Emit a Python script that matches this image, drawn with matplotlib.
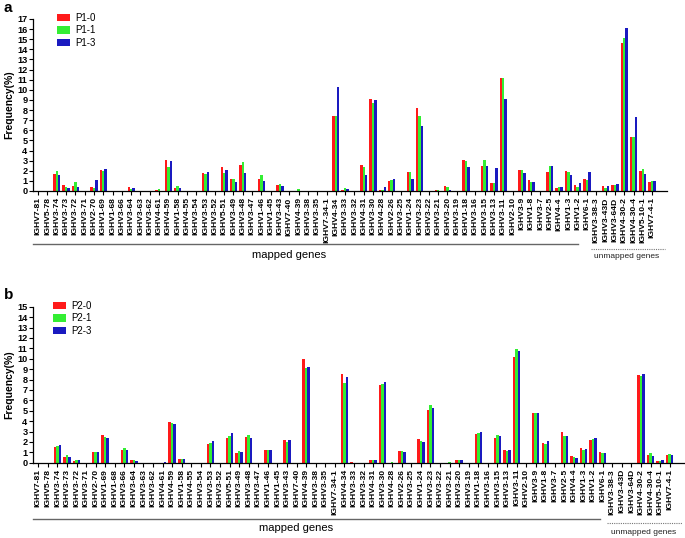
import numpy as np
import matplotlib
matplotlib.use('Agg')
import matplotlib.pyplot as plt
import matplotlib.transforms as mtransforms
from matplotlib.lines import Line2D
from matplotlib.patches import Patch

plt.rcParams['font.family'] = ['Liberation Sans', 'DejaVu Sans']

genes = [
    'IGHV7-81', 'IGHV5-78', 'IGHV3-74', 'IGHV3-73', 'IGHV3-72', 'IGHV3-71', 'IGHV2-70',
    'IGHV1-69', 'IGHV1-68', 'IGHV3-66', 'IGHV3-64', 'IGHV3-63', 'IGHV3-62', 'IGHV4-61',
    'IGHV4-59', 'IGHV1-58', 'IGHV4-55', 'IGHV3-54', 'IGHV3-53', 'IGHV3-52', 'IGHV5-51',
    'IGHV3-49', 'IGHV3-48', 'IGHV3-47', 'IGHV1-46', 'IGHV1-45', 'IGHV3-43', 'IGHV7-40',
    'IGHV4-39', 'IGHV3-38', 'IGHV3-35', 'IGHV7-34-1', 'IGHV4-34', 'IGHV3-33', 'IGHV3-32',
    'IGHV4-31', 'IGHV3-30', 'IGHV4-28', 'IGHV2-26', 'IGHV3-25', 'IGHV1-24', 'IGHV3-23',
    'IGHV3-22', 'IGHV3-21', 'IGHV3-20', 'IGHV3-19', 'IGHV1-18', 'IGHV3-16', 'IGHV3-15',
    'IGHV3-13', 'IGHV3-11', 'IGHV2-10', 'IGHV3-9', 'IGHV1-8', 'IGHV3-7', 'IGHV2-5',
    'IGHV4-4', 'IGHV1-3', 'IGHV1-2', 'IGHV6-1',
    'IGHV3-38-3', 'IGHV3-43D', 'IGHV3-64D', 'IGHV4-30-2', 'IGHV4-30-4', 'IGHV5-10-1', 'IGHV7-4-1',
]

p1_0 = [0, 0, 1.72, 0.55, 0.45, 0, 0.35, 2.05, 0, 0, 0.35, 0, 0, 0.1, 3.05, 0.25, 0, 0, 1.75, 0,
        2.4, 1.2, 2.6, 0, 1.15, 0, 0.55, 0, 0, 0, 0, 0, 7.45, 0.1, 0, 2.55, 9.14, 0.13, 0.96, 0,
        1.89, 8.18, 0, 0.05, 0.46, 0, 3.08, 0, 2.52, 0.76, 11.19, 0, 2.09, 1.13, 0, 1.85,
        0.3, 1.95, 0.63, 1.22, 0, 0.53, 0.63, 14.6, 5.3, 1.95, 0.93]
p1_1 = [0, 0, 2.0, 0.4, 0.85, 0, 0.25, 2.0, 0, 0, 0.15, 0, 0, 0.15, 2.4, 0.45, 0, 0, 1.65, 0,
        1.75, 1.15, 2.85, 0, 1.6, 0, 0.7, 0, 0.15, 0, 0, 0, 7.45, 0.3, 0, 2.4, 8.68, 0.05, 1.06, 0,
        1.89, 7.42, 0, 0.05, 0.36, 0, 2.95, 0, 3.08, 0.76, 11.19, 0, 2.09, 0.93, 0, 2.48,
        0.4, 1.85, 0.36, 1.09, 0, 0.3, 0.56, 15.17, 5.3, 2.22, 0.99]
p1_3 = [0, 0, 1.55, 0.25, 0.4, 0, 1.05, 2.15, 0, 0, 0.25, 0, 0, 0, 2.95, 0.3, 0, 0, 1.85, 0,
        2.1, 0.85, 1.75, 0, 0.95, 0, 0.5, 0, 0, 0, 0, 0, 10.3, 0.15, 0, 1.55, 8.97, 0.43, 1.19, 0,
        1.22, 6.39, 0, 0, 0.1, 0, 2.38, 0, 2.45, 2.32, 9.07, 0, 1.82, 0.89, 0, 2.48,
        0.36, 1.59, 0.76, 1.89, 0, 0.46, 0.7, 16.1, 7.28, 1.66, 0.96]

p2_0 = [0, 0, 1.47, 0.51, 0.19, 0, 1.06, 2.66, 0, 1.19, 0.26, 0, 0, 0, 3.88, 0.38, 0, 0, 1.79, 0,
        2.4, 0.96, 2.5, 0, 1.25, 0, 2.21, 0, 10.0, 0, 0, 0, 8.56, 0.02, 0, 0.26, 7.44, 0, 1.15, 0,
        2.31, 5.06, 0, 0, 0.22, 0, 2.79, 0, 2.37, 1.22, 10.16, 0, 4.81, 1.92, 0, 2.98,
        0.64, 1.41, 2.18, 0.99, 0, 0, 0, 8.43, 0.77, 0.16, 0.74]
p2_1 = [0, 0, 1.6, 0.74, 0.29, 0, 1.03, 2.44, 0, 1.44, 0.26, 0, 0, 0, 3.85, 0.38, 0, 0, 1.86, 0,
        2.56, 1.12, 2.66, 0, 1.25, 0, 2.02, 0, 9.1, 0, 0, 0, 7.69, 0, 0, 0.26, 7.6, 0.03, 1.15, 0,
        2.05, 5.51, 0, 0.03, 0.22, 0, 2.82, 0, 2.69, 1.12, 10.9, 0, 4.81, 1.76, 0, 2.6,
        0.54, 1.25, 2.28, 0.93, 0, 0, 0, 8.33, 0.9, 0.16, 0.87]
p2_3 = [0, 0, 1.73, 0.58, 0.26, 0, 0.99, 2.37, 0, 1.22, 0.16, 0, 0, 0.03, 3.75, 0.38, 0, 0, 2.12, 0,
        2.82, 0.99, 2.4, 0, 1.25, 0, 2.18, 0, 9.2, 0, 0, 0, 8.27, 0, 0, 0.26, 7.79, 0, 0.99, 0,
        2.02, 5.26, 0, 0, 0.29, 0, 2.92, 0, 2.56, 1.19, 10.74, 0, 4.81, 2.08, 0, 2.6,
        0.45, 1.31, 2.37, 0.93, 0, 0, 0, 8.56, 0.61, 0.26, 0.77]

n_mapped = 60
colors = ['#FF1A1A', '#33EE33', '#1A1AC0']

W, H = 685, 538
fig = plt.figure(figsize=(W / 100, H / 100), dpi=100)


def draw_panel(rect, series, names, ymax, right_x, line_end, line_y, dot_y, text_y, utext_y,
               leg_xy, letter_xy, letter):
    ax = fig.add_axes(rect)
    x = np.arange(len(genes))
    w = 0.26
    for k, (vals, c) in enumerate(zip(series, colors)):
        ax.bar(x + (k - 1) * w, vals, width=w, color=c, linewidth=0)
    ax.set_xlim(-0.55, right_x)
    ax.set_ylim(0, ymax)
    ax.set_yticks(np.arange(0, ymax + 1, 1))
    ax.set_xticks(x)
    ax.set_xticklabels(genes, rotation=90, fontsize=6.1, fontweight='bold')
    ax.tick_params(axis='y', labelsize=6.6, length=3, width=0.8, pad=1)
    ax.tick_params(axis='x', length=3, width=0.8, pad=1.5)
    for lab in ax.get_yticklabels():
        lab.set_fontweight('bold')
    ax.spines['top'].set_visible(False)
    ax.spines['right'].set_visible(False)
    ax.spines['left'].set_linewidth(0.9)
    ax.spines['bottom'].set_linewidth(0.9)
    ax.set_ylabel('Frequency(%)', fontsize=7.5, fontweight='bold', labelpad=2)

    # group brackets under the tick labels
    tr = mtransforms.blended_transform_factory(ax.transData, fig.transFigure)
    ly = 1 - line_y / H
    dy = 1 - dot_y / H
    fig.add_artist(Line2D([-0.55, line_end], [ly, ly], transform=tr, color='#666666', lw=1.0))
    fig.add_artist(Line2D([n_mapped - 0.6, right_x - 0.2], [dy, dy], transform=tr,
                          color='#777777', lw=0.8, linestyle=(0, (1, 1))))
    fig.text(27, 1 - text_y / H, 'mapped genes', transform=tr, fontsize=8, ha='center', va='center')
    fig.text(63.3, 1 - utext_y / H, 'unmapped genes', transform=tr,
             fontsize=6, ha='center', va='center', color='#222222')

    handles = [Patch(facecolor=c, edgecolor='none') for c in colors]
    fig.legend(handles, names, loc='upper left', bbox_to_anchor=(leg_xy[0] / W, 1 - leg_xy[1] / H),
               frameon=False, fontsize=7, handlelength=1.3, handleheight=0.75, labelspacing=0.25,
               handletextpad=0.6, borderaxespad=0, borderpad=0)
    fig.text(letter_xy[0] / W, 1 - letter_xy[1] / H, letter, fontsize=11, fontweight='bold',
             ha='left', va='top')
    return ax


draw_panel([33 / W, 1 - 191 / H, (667 - 33) / W, (191 - 19) / H],
           [p1_0, p1_1, p1_3], ['P1-0', 'P1-1', 'P1-3'], 17, 67.6, 58.0,
           244, 249, 255, 256, (57, 13), (4, 1), 'a')
draw_panel([33 / W, 1 - 462.7 / H, (684 - 33) / W, (462.7 - 306.7) / H],
           [p2_0, p2_1, p2_3], ['P2-0', 'P2-1', 'P2-3'], 15, 67.5, 58.7,
           519, 523, 528, 532, (53, 301), (4, 288), 'b')

fig.savefig('out.png', dpi=100)
